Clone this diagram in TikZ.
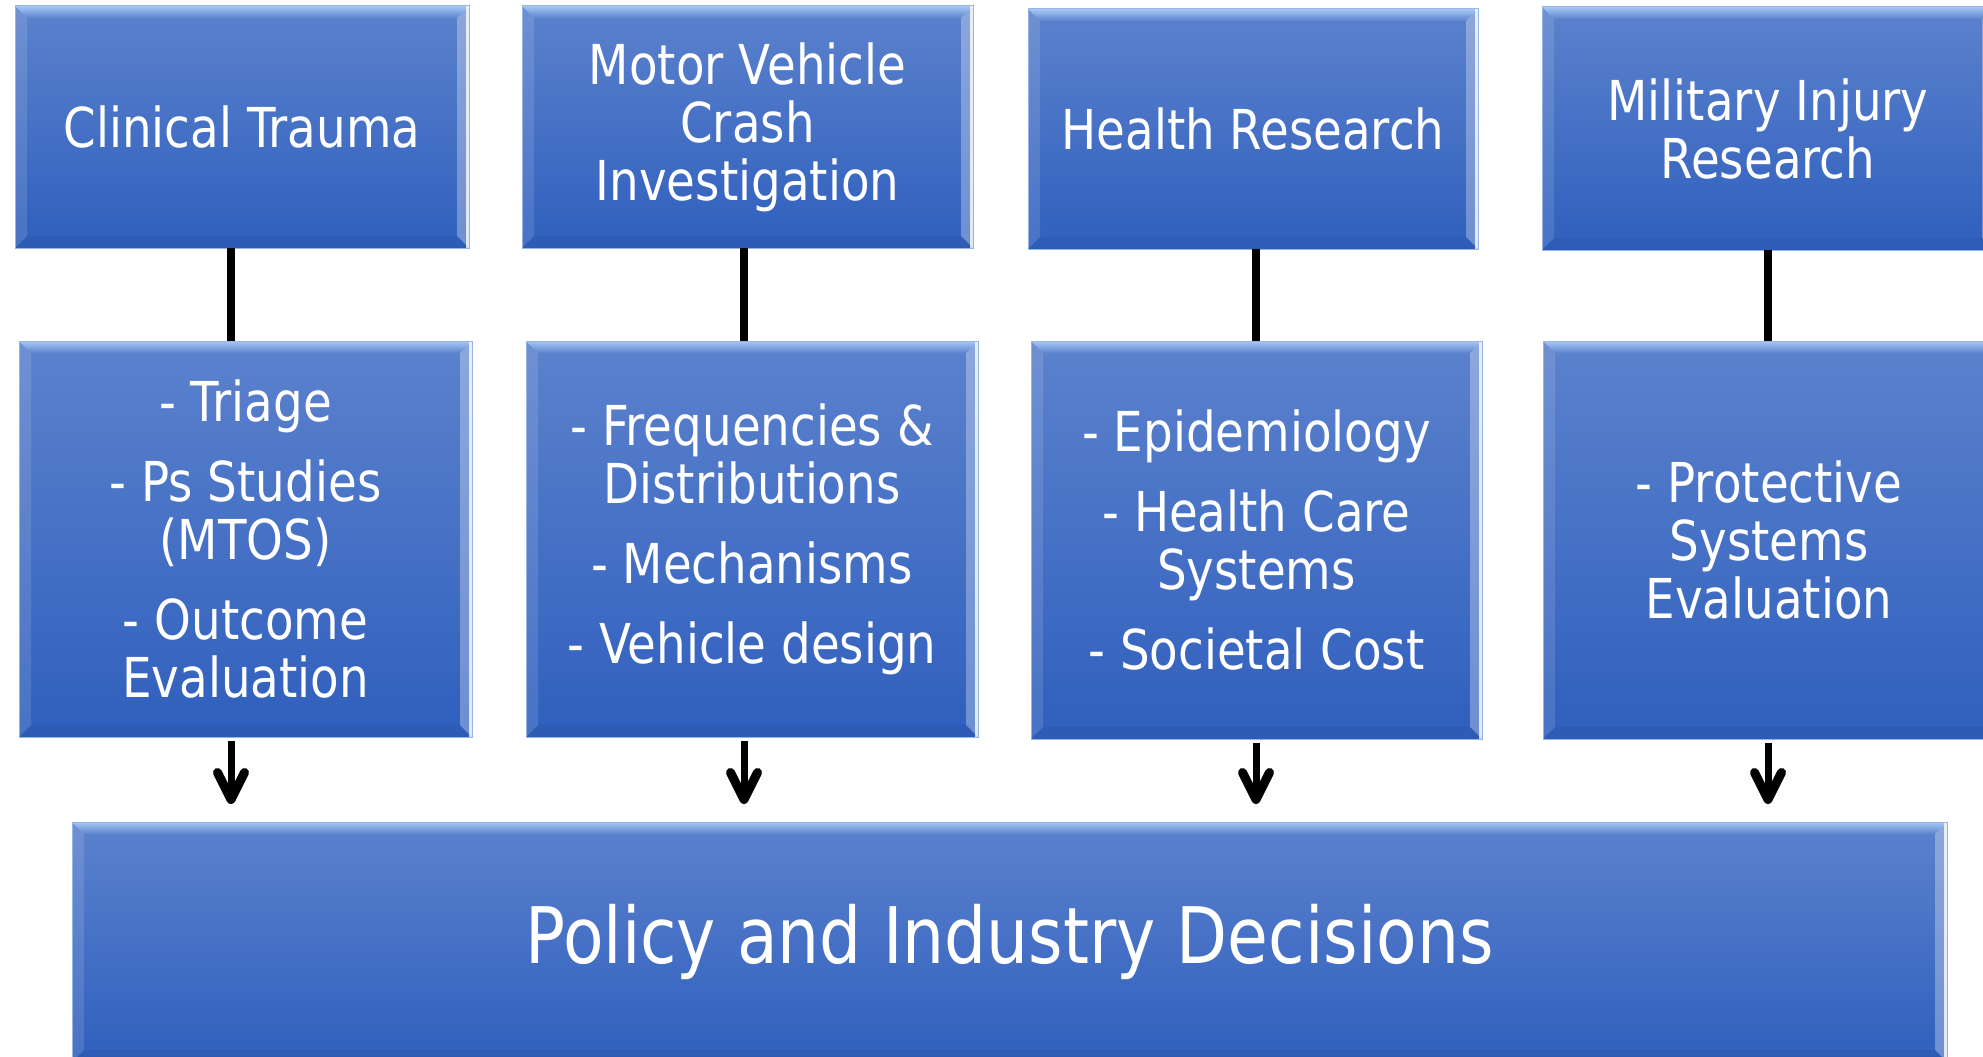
\documentclass[tikz,border=0pt]{standalone}
\usepackage{fontspec}
\setmainfont{DejaVu Sans}[FakeStretch=0.85]
\usetikzlibrary{arrows.meta,calc}
\definecolor{boxtop}{RGB}{92,130,205}
\definecolor{boxbot}{RGB}{47,95,189}
\definecolor{bevlight}{RGB}{165,200,245}
\definecolor{boxedge}{RGB}{150,180,230}
\begin{document}
\begin{tikzpicture}[x=1pt,y=-1pt,
  bevelbox/.style={inner sep=0pt, outer sep=0pt, text=white, align=center,
     top color=boxtop, bottom color=boxbot, draw=boxedge, line width=1pt,
     font=\fontsize{55}{58}\selectfont,
     path picture={
       \coordinate (PNW) at (path picture bounding box.north west);
       \coordinate (PNE) at (path picture bounding box.north east);
       \coordinate (PSW) at (path picture bounding box.south west);
       \coordinate (PSE) at (path picture bounding box.south east);
       \shade[top color=bevlight, bottom color=boxtop] (PNW) -- (PNE) -- ($(PNE)+(-12,12)$) -- ($(PNW)+(12,12)$) -- cycle;
       \fill[white, opacity=0.12] (PNW) -- ($(PNW)+(12,12)$) -- ($(PSW)+(12,-12)$) -- (PSW) -- cycle;
       \fill[white, opacity=0.3] (PNE) -- ($(PNE)+(-12,12)$) -- ($(PSE)+(-12,-12)$) -- (PSE) -- cycle;
       \fill[white, opacity=0.8] (PNE) rectangle ($(PSE)+(-3,0)$);
       \fill[black, opacity=0.04] (PSW) -- ($(PSW)+(12,-12)$) -- ($(PSE)+(-12,-12)$) -- (PSE) -- cycle;
     }},
  conn/.style={line width=7.5pt},
  arr/.style={line width=7pt, -{Straight Barb[length=27pt,width=27pt,round,line width=9pt]}}
]
\useasboundingbox (0,0) rectangle (1983,1057);
\clip (0,0) rectangle (1983,1057);

% top row
\node[bevelbox, minimum width=454pt, minimum height=242pt] (t1) at (242,127) {Clinical Trauma};
\node[bevelbox, minimum width=451pt, minimum height=242pt] (t2) at (747.5,127) {Motor Vehicle\\ Crash\\ Investigation};
\node[bevelbox, minimum width=450pt, minimum height=240pt] (t3) at (1253,129) {Health Research};
\node[bevelbox, minimum width=452pt, minimum height=243pt] (t4) at (1768,128.5) {Military Injury\\ Research};

% middle row
\node[bevelbox, minimum width=453pt, minimum height=396pt] (m1) at (245.5,539) {- Triage\\[22pt] - Ps Studies\\ (MTOS)\\[22pt] - Outcome\\ Evaluation};
\node[bevelbox, minimum width=452pt, minimum height=396pt] (m2) at (752,539) {- Frequencies \&\\ Distributions\\[22pt] - Mechanisms\\[22pt] - Vehicle design};
\node[bevelbox, minimum width=451pt, minimum height=398pt] (m3) at (1256.5,540) {- Epidemiology\\[22pt] - Health Care\\ Systems\\[22pt] - Societal Cost};
\node[bevelbox, minimum width=452pt, minimum height=398pt] (m4) at (1769,540) {- Protective\\ Systems\\ Evaluation};

% bottom
\node[bevelbox, minimum width=1875pt, minimum height=240pt, font=\fontsize{78}{80}\selectfont] (bot) at (1009.5,942) {Policy and Industry Decisions};

% connector x positions
\coordinate (x1) at (231,0);
\coordinate (x2) at (744,0);
\coordinate (x3) at (1256,0);
\coordinate (x4) at (1768,0);

\foreach \i in {1,2,3,4}{
  \draw[conn] (t\i.south -| x\i) -- (m\i.north -| x\i);
  \draw[arr, shorten <=4pt, shorten >=18pt] (m\i.south -| x\i) -- (bot.north -| x\i);
}
\end{tikzpicture}
\end{document}
